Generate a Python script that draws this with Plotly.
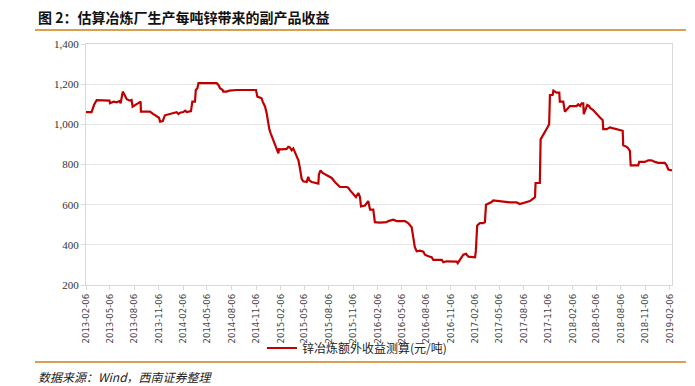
import plotly.graph_objects as go

dates = [
    "2013-02-06", "2013-02-27", "2013-03-08", "2013-03-18", "2013-05-05", "2013-05-07", "2013-05-20",
    "2013-06-01", "2013-06-11", "2013-06-16", "2013-06-24", "2013-06-30", "2013-07-09", "2013-07-21",
    "2013-07-27", "2013-07-31", "2013-08-09", "2013-08-21", "2013-08-30", "2013-08-31", "2013-10-04",
    "2013-10-17", "2013-10-29", "2013-11-07", "2013-11-11", "2013-11-21", "2013-11-29", "2013-12-12",
    "2013-12-31", "2014-01-12", "2014-01-19", "2014-01-25", "2014-02-06", "2014-02-13", "2014-02-19",
    "2014-03-07", "2014-03-12", "2014-03-22", "2014-03-25", "2014-03-31", "2014-04-04", "2014-06-11",
    "2014-06-18", "2014-06-24", "2014-07-04", "2014-07-06", "2014-07-19", "2014-07-29", "2014-08-25",
    "2014-11-06", "2014-11-11", "2014-11-21", "2014-11-27", "2014-12-01", "2014-12-10", "2014-12-16",
    "2014-12-22", "2014-12-26", "2014-12-31", "2015-01-07", "2015-01-16", "2015-01-22", "2015-01-29",
    "2015-01-31", "2015-02-10", "2015-03-01", "2015-03-07", "2015-03-13", "2015-03-20", "2015-03-26",
    "2015-04-01", "2015-04-07", "2015-04-14", "2015-04-20", "2015-04-26", "2015-05-02", "2015-05-15",
    "2015-05-21", "2015-05-25", "2015-06-03", "2015-06-21", "2015-06-28", "2015-06-30", "2015-07-06",
    "2015-07-14", "2015-07-23", "2015-08-04", "2015-08-17", "2015-08-29", "2015-09-11", "2015-09-17",
    "2015-10-12", "2015-10-18", "2015-10-25", "2015-11-06", "2015-11-16", "2015-11-25", "2015-12-01",
    "2015-12-05", "2015-12-20", "2016-01-01", "2016-01-08", "2016-01-20", "2016-01-26", "2016-02-14",
    "2016-03-10", "2016-03-16", "2016-04-04", "2016-04-17", "2016-05-18", "2016-05-30", "2016-06-12",
    "2016-06-18", "2016-06-24", "2016-07-01", "2016-07-13", "2016-07-26", "2016-08-01", "2016-08-14",
    "2016-08-26", "2016-09-01", "2016-10-03", "2016-10-09", "2016-10-21", "2016-11-28", "2016-12-02",
    "2016-12-08", "2016-12-17", "2016-12-23", "2017-01-02", "2017-01-11", "2017-02-05", "2017-02-08",
    "2017-02-13", "2017-02-23", "2017-03-08", "2017-03-14", "2017-03-18", "2017-03-27", "2017-04-08",
    "2017-04-14", "2017-04-27", "2017-05-22", "2017-06-16", "2017-07-11", "2017-07-23", "2017-08-05",
    "2017-08-17", "2017-08-30", "2017-09-11", "2017-09-18", "2017-09-20", "2017-10-06", "2017-10-09",
    "2017-10-19", "2017-10-25", "2017-11-04", "2017-11-10", "2017-11-13", "2017-11-23", "2017-11-26",
    "2017-12-08", "2017-12-18", "2017-12-20", "2018-01-02", "2018-01-08", "2018-01-21", "2018-01-27",
    "2018-02-21", "2018-02-27", "2018-03-06", "2018-03-12", "2018-03-18", "2018-03-20", "2018-03-28",
    "2018-04-02", "2018-04-09", "2018-04-14", "2018-04-24", "2018-05-04", "2018-05-17", "2018-05-30",
    "2018-06-01", "2018-06-14", "2018-06-26", "2018-07-09", "2018-07-21", "2018-08-03", "2018-08-13",
    "2018-08-15", "2018-08-28", "2018-09-03", "2018-09-09", "2018-09-12", "2018-10-10", "2018-10-14",
    "2018-11-04", "2018-11-17", "2018-11-29", "2018-12-12", "2018-12-24", "2019-01-18", "2019-01-25",
    "2019-01-31", "2019-02-14",
]

values = [
    1061, 1061, 1096, 1121, 1118, 1105, 1113,
    1110, 1116, 1105, 1163, 1146, 1125, 1118,
    1121, 1088, 1096, 1105, 1113, 1063, 1063,
    1051, 1038, 1033, 1013, 1016, 1045, 1050,
    1055, 1060, 1051, 1058, 1061, 1068, 1061,
    1066, 1113, 1113, 1171, 1180, 1205, 1205,
    1196, 1180, 1171, 1163, 1163, 1168, 1171,
    1171, 1138, 1135, 1130, 1113, 1088, 1055,
    1005, 975, 955, 930, 905, 880, 855,
    876, 875, 878, 888, 885, 871, 880,
    863, 846, 821, 780, 730, 716, 713,
    738, 721, 713, 708, 705, 750, 771,
    758, 751, 741, 733, 713, 696, 688,
    688, 685, 671, 651, 638, 658, 638,
    591, 596, 618, 575, 575, 513, 511,
    513, 518, 525, 518, 518, 508, 488,
    438, 388, 368, 371, 366, 351, 343,
    338, 325, 325, 313, 318, 316, 308,
    321, 338, 351, 355, 341, 338, 371,
    496, 508, 508, 513, 600, 605, 613,
    621, 618, 615, 611, 611, 603, 608,
    613, 618, 630, 638, 708, 708, 925,
    946, 963, 985, 1001, 1146, 1146, 1168,
    1158, 1158, 1113, 1113, 1063, 1080, 1091,
    1091, 1100, 1091, 1105, 1105, 1051, 1080,
    1097, 1091, 1080, 1071, 1055, 1038, 1021,
    976, 976, 985, 980, 975, 971, 968,
    896, 888, 880, 868, 796, 796, 813,
    813, 821, 821, 813, 808, 808, 796,
    775, 771,
]

tick_dates = [
    "2013-02-06", "2013-05-06", "2013-08-06", "2013-11-06",
    "2014-02-06", "2014-05-06", "2014-08-06", "2014-11-06",
    "2015-02-06", "2015-05-06", "2015-08-06", "2015-11-06",
    "2016-02-06", "2016-05-06", "2016-08-06", "2016-11-06",
    "2017-02-06", "2017-05-06", "2017-08-06", "2017-11-06",
    "2018-02-06", "2018-05-06", "2018-08-06", "2018-11-06",
    "2019-02-06",
]

y_ticks = [200, 400, 600, 800, 1000, 1200, 1400]
y_labels = ["200", "400", "600", "800", "1,000", "1,200", "1,400"]

series_name = "锌冶炼额外收益测算(元/吨)"
title_text = "图 2：估算冶炼厂生产每吨锌带来的副产品收益"
source_text = "数据来源：Wind，西南证券整理"

fig = go.Figure()
fig.add_trace(go.Scatter(
    x=dates, y=values, mode="lines", name=series_name,
    line=dict(color="#C00000", width=2.2),
))

fig.update_layout(
    width=695, height=386,
    margin=dict(l=86, r=23, t=44, b=101, autoexpand=False),
    paper_bgcolor="white", plot_bgcolor="white",
    showlegend=True,
    legend=dict(
        orientation="h", xref="container", yref="container",
        x=(270 - 8) / 695, y=1 - 348 / 386, xanchor="left", yanchor="middle",
        font=dict(family="Noto Sans CJK SC, Liberation Sans, sans-serif", size=12, color="#222"),
        bgcolor="rgba(0,0,0,0)",
    ),
    font=dict(family="Liberation Sans, sans-serif", color="#333"),
)

fig.update_xaxes(
    type="date", automargin=False,
    range=["2013-02-06", "2019-02-14"],
    tickvals=tick_dates, ticktext=tick_dates,
    tickangle=-90,
    tickfont=dict(family="Liberation Sans Narrow, DejaVu Sans Condensed, sans-serif", size=9.5, color="#444"),
    showgrid=False,
    showline=True, linecolor="#D9D9D9", linewidth=1, mirror=True,
    ticks="outside", ticklen=4, tickcolor="#D9D9D9",
)
fig.update_yaxes(
    range=[200, 1400], automargin=False,
    tickvals=y_ticks, ticktext=y_labels,
    tickfont=dict(family="Liberation Serif, serif", size=11, color="#333"),
    showgrid=True, gridcolor="#E6E6E6", gridwidth=1,
    showline=True, linecolor="#D9D9D9", linewidth=1, mirror=True,
    ticks="outside", ticklen=4, tickcolor="#D9D9D9",
    zeroline=False,
)

fig.add_annotation(
    text="<b>" + title_text + "</b>", xref="paper", yref="paper",
    x=(36 - 86) / 586, xanchor="left", y=1 + (44 - 17) / 241, yanchor="middle",
    showarrow=False,
    font=dict(family="Noto Sans CJK SC, sans-serif", size=14, color="#111"),
)
fig.add_annotation(
    text="<i>" + source_text + "</i>", xref="paper", yref="paper",
    x=(36 - 86) / 586, xanchor="left", y=-(376 - 285) / 241, yanchor="middle",
    showarrow=False,
    font=dict(family="Noto Sans CJK SC, sans-serif", size=12, color="#222"),
)
fig.add_shape(type="line", xref="paper", yref="paper",
              x0=(35 - 86) / 586, x1=(686 - 86) / 586,
              y0=1 + (44 - 30) / 241, y1=1 + (44 - 30) / 241,
              line=dict(color="#D9A050", width=2))
fig.add_shape(type="line", xref="paper", yref="paper",
              x0=(35 - 86) / 586, x1=(686 - 86) / 586,
              y0=-(362 - 285) / 241, y1=-(362 - 285) / 241,
              line=dict(color="#D9A050", width=2))

fig.write_html(
    "out.html",
    config={"displayModeBar": False},
    post_script="document.body.style.margin='0';document.body.style.padding='0';",
)
